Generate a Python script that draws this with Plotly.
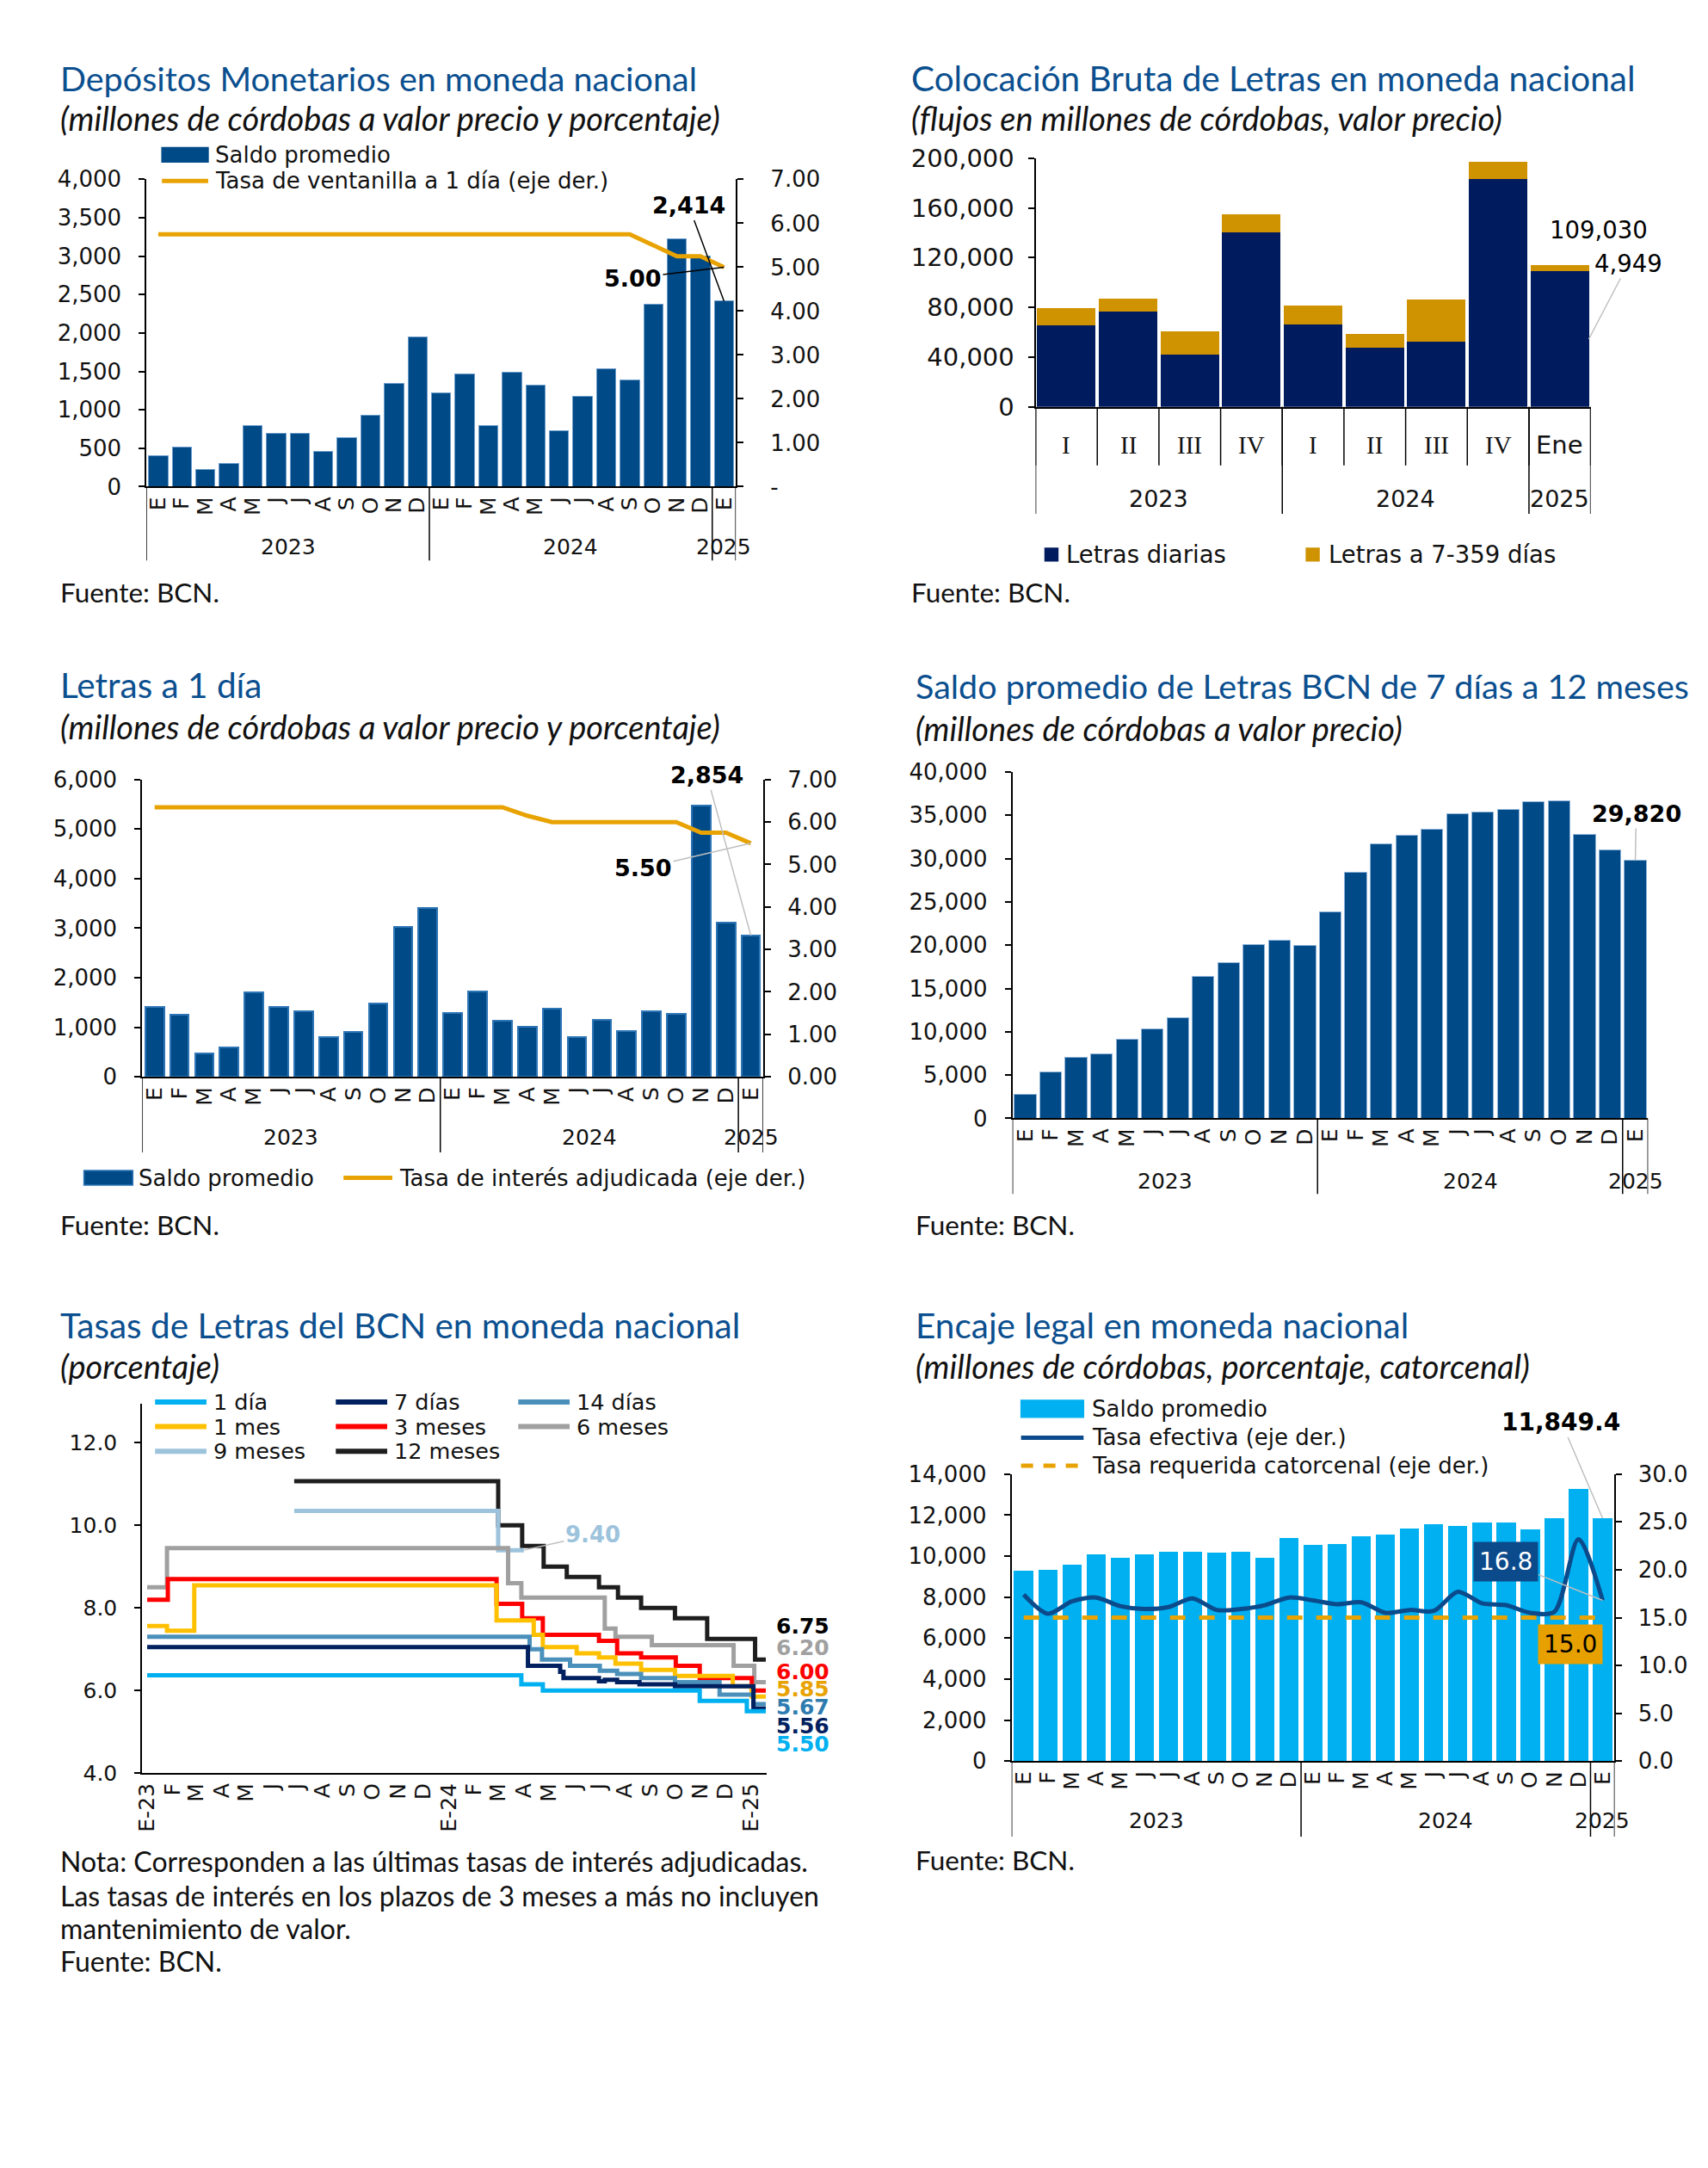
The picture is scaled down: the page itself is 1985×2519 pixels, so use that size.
import plotly.graph_objects as go
import pandas as pd

W, H = 1985, 2519


def fx(x):
    return x / W


def fy(y):
    return 1 - y / H


TITLE_FONT = "Lato, 'Open Sans', 'Noto Sans', sans-serif"
NUM_FONT = "'DejaVu Sans', Verdana, sans-serif"
SERIF_FONT = "'Liberation Serif', 'DejaVu Serif', serif"
TITLE_COLOR = "#0B4F8F"
TEXT_COLOR = "#111111"
BAR_BLUE = "#004A87"
ORANGE = "#E8A202"
LEADER = "#BFBFBF"

# ---------------- data ----------------
meses = ["E", "F", "M", "A", "M", "J", "J", "A", "S", "O", "N", "D",
         "E", "F", "M", "A", "M", "J", "J", "A", "S", "O", "N", "D", "E"]
anios = ["2023", "2024", "2025"]
meses_por_anio = [12, 12, 1]

# 1. Depósitos monetarios
dep_saldo = [405, 516, 223, 304, 795, 699, 699, 456, 643, 927, 1342, 1944,
             1220, 1463, 790, 1489, 1326, 731, 1175, 1540, 1393, 2372, 3221, 3003, 2414]
dep_tasa = [5.75, 5.75, 5.75, 5.75, 5.75, 5.75, 5.75, 5.75, 5.75, 5.75, 5.75, 5.75,
            5.75, 5.75, 5.75, 5.75, 5.75, 5.75, 5.75, 5.75, 5.75, 5.50, 5.25, 5.25, 5.00]
dep_der_ticks = ["-", "1.00", "2.00", "3.00", "4.00", "5.00", "6.00", "7.00"]

# 2. Colocación bruta de letras
trimestres = ["I", "II", "III", "IV", "I", "II", "III", "IV", "Ene"]
trim_anios = ["2023", "2024", "2025"]
trim_por_anio = [4, 4, 1]
letras_diarias = [65300, 76600, 41950, 140600, 66200, 47400, 52400, 183400, 109030]
letras_7_359 = [13800, 10600, 18600, 14500, 15600, 11500, 34200, 13300, 4949]

# 3. Letras a 1 día
l1_saldo = [1418, 1254, 467, 590, 1697, 1418, 1320, 803, 902, 1484, 3025, 3410,
            1295, 1721, 1131, 1011, 1371, 800, 1143, 926, 1331, 1274, 5469, 3120, 2854]
l1_tasa = [6.35, 6.35, 6.35, 6.35, 6.35, 6.35, 6.35, 6.35, 6.35, 6.35, 6.35, 6.35,
           6.35, 6.35, 6.35, 6.15, 6.00, 6.00, 6.00, 6.00, 6.00, 6.00, 5.75, 5.75, 5.50]

# 4. Saldo promedio de letras 7 días a 12 meses
l7_saldo = [2800, 5370, 7050, 7420, 9150, 10360, 11580, 16390, 18020, 20070, 20540, 19930,
            23800, 28420, 31690, 32670, 33370, 35150, 35330, 35710, 36550, 36690, 32810, 30990, 29820]

# 5. Tasas de letras (step series)
t_1d_x = ["2023-01-01", "2024-03-29", "2024-04-24", "2024-10-31", "2024-12-27", "2025-01-19"]
t_1d_y = [6.37, 6.15, 6.00, 5.75, 5.50, 5.50]
t_7d_x = ["2023-01-01", "2024-04-06", "2024-05-15", "2024-05-19", "2024-07-01", "2024-07-08",
          "2024-07-23", "2024-08-19", "2024-10-01", "2025-01-04", "2025-01-19"]
t_7d_y = [7.05, 6.60, 6.45, 6.30, 6.22, 6.26, 6.20, 6.15, 6.10, 5.56, 5.56]
t_14d_x = ["2023-01-01", "2024-04-08", "2024-04-23", "2024-05-27", "2024-07-02", "2024-07-23",
           "2024-08-21", "2024-10-01", "2024-11-24", "2025-01-04", "2025-01-19"]
t_14d_y = [7.30, 7.00, 6.75, 6.60, 6.48, 6.40, 6.30, 6.20, 5.90, 5.67, 5.67]
t_1m_x = ["2023-01-01", "2023-01-25", "2023-02-27", "2024-02-28", "2024-04-13", "2024-04-24",
          "2024-06-04", "2024-07-01", "2024-07-21", "2024-08-21", "2024-10-01", "2024-12-10",
          "2025-01-02", "2025-01-19"]
t_1m_y = [7.56, 7.45, 8.55, 7.70, 7.35, 7.05, 6.90, 6.80, 6.65, 6.50, 6.35, 6.10, 5.85, 5.85]
t_3m_x = ["2023-01-01", "2023-01-26", "2024-02-28", "2024-03-30", "2024-04-24", "2024-07-01",
          "2024-07-23", "2024-08-21", "2024-10-02", "2024-10-31", "2025-01-02", "2025-01-19"]
t_3m_y = [8.20, 8.70, 8.10, 7.75, 7.35, 7.20, 6.90, 6.80, 6.60, 6.30, 6.00, 6.00]
t_6m_x = ["2023-01-01", "2023-01-25", "2024-03-13", "2024-03-29", "2024-07-08", "2024-07-21",
          "2024-09-03", "2024-12-11", "2025-01-05", "2025-01-19"]
t_6m_y = [8.50, 9.45, 8.60, 8.25, 7.50, 7.30, 7.10, 6.60, 6.20, 6.20]
t_9m_x = ["2023-06-28", "2024-03-01", "2024-04-01"]
t_9m_y = [10.35, 9.40, 9.40]
t_12m_x = ["2023-06-28", "2024-03-01", "2024-03-30", "2024-04-25", "2024-05-23", "2024-07-01",
           "2024-07-24", "2024-08-21", "2024-10-01", "2024-11-09", "2025-01-06", "2025-01-19"]
t_12m_y = [11.07, 10.00, 9.50, 9.00, 8.75, 8.50, 8.25, 8.00, 7.75, 7.25, 6.75, 6.75]
tasas_ticktext = ["E-23", "F", "M", "A", "M", "J", "J", "A", "S", "O", "N", "D",
                  "E-24", "F", "M", "A", "M", "J", "J", "A", "S", "O", "N", "D", "E-25"]
nombres_plazo = ["1 día", "7 días", "14 días", "1 mes", "3 meses", "6 meses", "9 meses", "12 meses"]
colores_plazo = ["#00B0F0", "#002060", "#4A90BA", "#FFC000", "#FF0000", "#A0A0A0", "#9DC3DC", "#1E1E1E"]
colores_etiqueta = ["#00B0F0", "#002060", "#2E7BB0", "#E8A202", "#FF0000", "#A0A0A0", "#9DC3DC", "#000000"]

# 6. Encaje legal
enc_saldo = [9290, 9340, 9600, 10070, 9920, 10070, 10200, 10200, 10160, 10200, 9920, 10870,
             10530, 10580, 10980, 11070, 11340, 11545, 11477, 11636, 11636, 11290, 11841, 13295, 11849.4]
enc_efectiva = [17.4, 15.4, 16.7, 17.1, 16.2, 15.9, 16.1, 17.0, 15.8, 15.9, 16.3, 17.1,
                16.8, 16.4, 16.6, 15.5, 15.8, 15.7, 17.7, 16.5, 16.3, 15.5, 15.6, 23.2, 16.8]
enc_requerida = [15.0, 15.0, 15.0, 15.0, 15.0, 15.0, 15.0, 15.0, 15.0, 15.0, 15.0, 15.0,
                 15.0, 15.0, 15.0, 15.0, 15.0, 15.0, 15.0, 15.0, 15.0, 15.0, 15.0, 15.0, 15.0]

idx25 = list(range(len(meses)))
idx9 = list(range(len(trimestres)))

fig = go.Figure()
shapes = []
annotations = []

NUM = 26      # tick / legend size
BOLD = 27     # highlighted values
TIT = 40.5
SUB = 38
SRC = 31.5


def add_text(x, y, text, size, color=TEXT_COLOR, family=NUM_FONT, xanchor="left", yanchor="middle", **kw):
    annotations.append(dict(x=fx(x), y=fy(y), xref="paper", yref="paper", text=text, showarrow=False,
                            xanchor=xanchor, yanchor=yanchor,
                            font=dict(size=size, color=color, family=family), **kw))


def bounds(counts):
    b = [-0.5]
    for c in counts:
        b.append(b[-1] + c)
    return b


def group_axis(xref, counts, labels, axis_px, sep_px, label_px, size=25):
    b = bounds(counts)
    for v in b:
        shapes.append(dict(type="line", xref=xref, yref="paper", x0=v, x1=v,
                           y0=fy(axis_px), y1=fy(sep_px), line=dict(color="black", width=1.5)))
    for i, lab in enumerate(labels):
        annotations.append(dict(x=(b[i] + b[i + 1]) / 2, y=fy(label_px), xref=xref, yref="paper",
                                text=lab, showarrow=False, xanchor="center", yanchor="middle",
                                font=dict(size=size, family=NUM_FONT, color=TEXT_COLOR)))


def legend_rect(x0, x1, yc, color, h=17, line=None):
    shapes.append(dict(type="rect", xref="paper", yref="paper", x0=fx(x0), x1=fx(x1),
                       y0=fy(yc + h / 2), y1=fy(yc - h / 2), fillcolor=color,
                       line=dict(color=line or color, width=1.5)))


def legend_line(x0, x1, yc, color, width=5, dash="solid"):
    shapes.append(dict(type="line", xref="paper", yref="paper", x0=fx(x0), x1=fx(x1),
                       y0=fy(yc), y1=fy(yc), line=dict(color=color, width=width, dash=dash)))


def ystyle(size=NUM, standoff=15):
    return dict(showgrid=False, zeroline=False, showline=True, linecolor="black", linewidth=2,
                ticks="outside", ticklen=7, tickwidth=1.5, tickcolor="black",
                tickfont=dict(family=NUM_FONT, size=size, color=TEXT_COLOR), fixedrange=True,
                ticklabelstandoff=standoff)


xstyle = dict(showgrid=False, zeroline=False, showline=True, linecolor="black", linewidth=2,
              ticks="", tickangle=-90, tickfont=dict(family=NUM_FONT, size=25, color=TEXT_COLOR),
              fixedrange=True)

# ---------------- Chart 1 ----------------
fig.add_trace(go.Bar(x=idx25, y=dep_saldo, xaxis="x", yaxis="y", width=0.82,
                     marker=dict(color=BAR_BLUE, line=dict(color="#6C9CCB", width=1)), showlegend=False))
fig.add_trace(go.Scatter(x=idx25, y=dep_tasa, xaxis="x", yaxis="y2", mode="lines",
                         line=dict(color=ORANGE, width=5), showlegend=False))
C1 = dict(l=162, r=850, t=194, b=556)
add_text(59, 75, "Depósitos Monetarios en moneda nacional", 39.5, TITLE_COLOR, TITLE_FONT)
add_text(59, 122, "<i>(millones de córdobas a valor precio y porcentaje)</i>", SUB, TEXT_COLOR, TITLE_FONT)
legend_rect(180, 234, 165, BAR_BLUE)
add_text(240, 165, "Saldo promedio", NUM)
legend_line(180, 234, 196, ORANGE)
add_text(240, 196, "Tasa de ventanilla a 1 día (eje der.)", NUM)
group_axis("x", meses_por_anio, anios, C1["b"], 643, 627)
add_text(59, 680, "Fuente: BCN.", SRC, TEXT_COLOR, TITLE_FONT)
annotations.append(dict(x=idx25[-1], y=dep_saldo[-1], xref="x", yref="y", text="<b>%s</b>" % f"{dep_saldo[-1]:,}",
                        showarrow=True, arrowhead=0, arrowwidth=1.5, arrowcolor="black", ax=-41, ay=-111,
                        font=dict(size=BOLD, family=NUM_FONT, color="black")))
annotations.append(dict(x=idx25[-1], y=dep_tasa[-1], xref="x", yref="y2", text="<b>%.2f</b>" % dep_tasa[-1],
                        showarrow=True, arrowhead=0, arrowwidth=1.5, arrowcolor="black", ax=-106, ay=13,
                        font=dict(size=BOLD, family=NUM_FONT, color="black")))

# ---------------- Chart 2 ----------------
fig.add_trace(go.Bar(x=idx9, y=letras_diarias, xaxis="x2", yaxis="y3", width=0.95, name="Letras diarias",
                     marker=dict(color="#001B5E", line=dict(width=0)), showlegend=False))
fig.add_trace(go.Bar(x=idx9, y=letras_7_359, xaxis="x2", yaxis="y3", width=0.95, name="Letras a 7-359 días",
                     marker=dict(color="#CF9200", line=dict(width=0)), showlegend=False))
C2 = dict(l=1200, r=1848, t=169, b=462)
add_text(1053, 75, "Colocación Bruta de Letras en moneda nacional", TIT, TITLE_COLOR, TITLE_FONT)
add_text(1053, 122, "<i>(flujos en millones de córdobas, valor precio)</i>", SUB, TEXT_COLOR, TITLE_FONT)
for i in range(len(trimestres) + 1):
    shapes.append(dict(type="line", xref="x2", yref="paper", x0=i - 0.5, x1=i - 0.5,
                       y0=fy(C2["b"]), y1=fy(531), line=dict(color="black", width=1.5)))
for i, q in enumerate(trimestres):
    fam = NUM_FONT if q == "Ene" else SERIF_FONT
    annotations.append(dict(x=i, y=fy(507), xref="x2", yref="paper", text=q, showarrow=False,
                            xanchor="center", yanchor="middle", font=dict(size=29, family=fam, color=TEXT_COLOR)))
group_axis("x2", trim_por_anio, trim_anios, C2["b"], 588, 570, size=27)
legend_rect(1211, 1226, 636, "#001B5E", h=15)
add_text(1234, 636, "Letras diarias", 27.5)
legend_rect(1516, 1531, 636, "#CF9200", h=15)
add_text(1540, 636, "Letras a 7-359 días", 27.5)
add_text(1053, 680, "Fuente: BCN.", SRC, TEXT_COLOR, TITLE_FONT)
add_text(1857, 253, f"{letras_diarias[-1]:,}", 27.5, "black", NUM_FONT, xanchor="center")
annotations.append(dict(x=idx9[-1] + 0.47, y=letras_diarias[-1] / 2, xref="x2", yref="y3",
                        text=f"{letras_7_359[-1]:,}", showarrow=True, arrowhead=0, arrowwidth=1.5,
                        arrowcolor=LEADER, ax=46, ay=-88,
                        font=dict(size=27.5, family=NUM_FONT, color="black")))

# ---------------- Chart 3 ----------------
fig.add_trace(go.Bar(x=idx25, y=l1_saldo, xaxis="x3", yaxis="y4", width=0.75,
                     marker=dict(color=BAR_BLUE, line=dict(color="#2E75B6", width=2)), showlegend=False))
fig.add_trace(go.Scatter(x=idx25, y=l1_tasa, xaxis="x3", yaxis="y5", mode="lines",
                         line=dict(color=ORANGE, width=5), showlegend=False))
C3 = dict(l=157, r=882, t=901, b=1251)
add_text(59, 789, "Letras a 1 día", TIT, TITLE_COLOR, TITLE_FONT)
add_text(59, 838, "<i>(millones de córdobas a valor precio y porcentaje)</i>", SUB, TEXT_COLOR, TITLE_FONT)
group_axis("x3", meses_por_anio, anios, C3["b"], 1340, 1322)
legend_rect(89, 146, 1370, BAR_BLUE, line="#2E75B6")
add_text(151, 1370, "Saldo promedio", NUM)
legend_line(392, 449, 1370, ORANGE)
add_text(455, 1370, "Tasa de interés adjudicada (eje der.)", NUM)
add_text(59, 1425, "Fuente: BCN.", SRC, TEXT_COLOR, TITLE_FONT)
annotations.append(dict(x=idx25[-1], y=l1_saldo[-1], xref="x3", yref="y4", text="<b>%s</b>" % f"{l1_saldo[-1]:,}",
                        showarrow=True, arrowhead=0, arrowwidth=1.5, arrowcolor=LEADER, ax=-51, ay=-186,
                        font=dict(size=BOLD, family=NUM_FONT, color="black")))
annotations.append(dict(x=idx25[-1], y=l1_tasa[-1], xref="x3", yref="y5", text="<b>%.2f</b>" % l1_tasa[-1],
                        showarrow=True, arrowhead=0, arrowwidth=1.5, arrowcolor=LEADER, ax=-125, ay=29,
                        font=dict(size=BOLD, family=NUM_FONT, color="black")))

# ---------------- Chart 4 ----------------
fig.add_trace(go.Bar(x=idx25, y=l7_saldo, xaxis="x4", yaxis="y6", width=0.85,
                     marker=dict(color=BAR_BLUE, line=dict(color="#8FB3D9", width=1)), showlegend=False))
C4 = dict(l=1173, r=1915, t=892, b=1300)
add_text(1058, 790, "Saldo promedio de Letras BCN de 7 días a 12 meses", 39.5, TITLE_COLOR, TITLE_FONT)
add_text(1058, 840, "<i>(millones de córdobas a valor precio)</i>", SUB, TEXT_COLOR, TITLE_FONT)
group_axis("x4", meses_por_anio, anios, C4["b"], 1389, 1374)
add_text(1058, 1425, "Fuente: BCN.", SRC, TEXT_COLOR, TITLE_FONT)
annotations.append(dict(x=idx25[-1], y=l7_saldo[-1], xref="x4", yref="y6", text="<b>%s</b>" % f"{l7_saldo[-1]:,}",
                        showarrow=True, arrowhead=0, arrowwidth=1.5, arrowcolor=LEADER, ax=1, ay=-54,
                        font=dict(size=BOLD, family=NUM_FONT, color="black")))

# ---------------- Chart 5 ----------------
series5 = [(t_1d_x, t_1d_y), (t_7d_x, t_7d_y), (t_14d_x, t_14d_y), (t_1m_x, t_1m_y),
           (t_3m_x, t_3m_y), (t_6m_x, t_6m_y), (t_9m_x, t_9m_y), (t_12m_x, t_12m_y)]
draw_order = [7, 6, 5, 4, 3, 2, 1, 0]
for k in draw_order:
    xs, ys = series5[k]
    fig.add_trace(go.Scatter(x=xs, y=ys, xaxis="x5", yaxis="y7", mode="lines", line_shape="hv",
                             line=dict(color=colores_plazo[k], width=5), name=nombres_plazo[k], showlegend=False))
C5 = dict(l=157, r=886, t=1636, b=2071)
add_text(59, 1543, "Tasas de Letras del BCN en moneda nacional", TIT, TITLE_COLOR, TITLE_FONT)
add_text(59, 1591, "<i>(porcentaje)</i>", SUB, TEXT_COLOR, TITLE_FONT)
leg_cols = [(172, 232, 238), (383, 443, 449), (596, 656, 662)]
leg_rows = [1634, 1663, 1692]
for k, nombre in enumerate(nombres_plazo):
    r, c = divmod(k, 3)
    x0, x1, xt = leg_cols[c]
    legend_line(x0, x1, leg_rows[r], colores_plazo[k], width=6)
    add_text(xt, leg_rows[r], nombre, 25.5)
end_label_pos = [4.70, 5.14, 5.60, 6.03, 6.45, 7.04, 7.56]
end_order = [0, 1, 2, 3, 4, 5, 7]
for pos, k in zip(end_label_pos, end_order):
    xs, ys = series5[k]
    annotations.append(dict(x=xs[-1], y=pos, xref="x5", yref="y7", text="<b>%.2f</b>" % ys[-1],
                            showarrow=False, xanchor="left", yanchor="middle", xshift=11,
                            height=19, borderpad=0, valign="middle",
                            font=dict(size=25, family=NUM_FONT, color=colores_etiqueta[k])))
annotations.append(dict(x=t_9m_x[-1], y=t_9m_y[-1], xref="x5", yref="y7", text="<b>%.2f</b>" % t_9m_y[-1],
                        showarrow=True, arrowhead=0, arrowwidth=1.5, arrowcolor=LEADER, ax=80, ay=-18,
                        font=dict(size=26, family=NUM_FONT, color=colores_etiqueta[6])))
nota = ["Nota: Corresponden a las últimas tasas de interés adjudicadas.",
        "Las tasas de interés en los plazos de 3 meses a más no incluyen",
        "mantenimiento de valor.",
        "Fuente: BCN."]
for line_txt, yy in zip(nota, [2175, 2215, 2254, 2292]):
    add_text(59, yy, line_txt, 32, TEXT_COLOR, TITLE_FONT)

# ---------------- Chart 6 ----------------
fig.add_trace(go.Bar(x=idx25, y=enc_saldo, xaxis="x6", yaxis="y8", width=0.8,
                     marker=dict(color="#00B0F0", line=dict(width=0)), showlegend=False))
fig.add_trace(go.Scatter(x=idx25, y=enc_requerida, xaxis="x6", yaxis="y9", mode="lines",
                         line=dict(color=ORANGE, width=5, dash="18px,16px"), showlegend=False))
fig.add_trace(go.Scatter(x=idx25, y=enc_efectiva, xaxis="x6", yaxis="y9", mode="lines",
                         line=dict(color="#0B4A8B", width=5, shape="spline", smoothing=0.8), showlegend=False))
C6 = dict(l=1172, r=1876, t=1719, b=2057)
add_text(1058, 1543, "Encaje legal en moneda nacional", TIT, TITLE_COLOR, TITLE_FONT)
add_text(1058, 1591, "<i>(millones de córdobas, porcentaje, catorcenal)</i>", SUB, TEXT_COLOR, TITLE_FONT)
legend_rect(1183, 1256, 1642, "#00B0F0", h=20)
add_text(1264, 1642, "Saldo promedio", NUM)
legend_line(1183, 1256, 1676, "#0B4A8B", width=5)
add_text(1264, 1676, "Tasa efectiva (eje der.)", NUM)
legend_line(1183, 1256, 1709, ORANGE, width=5, dash="14px,12px")
add_text(1264, 1709, "Tasa requerida catorcenal (eje der.)", NUM)
group_axis("x6", meses_por_anio, anios, C6["b"], 2146, 2127)
add_text(1058, 2173, "Fuente: BCN.", SRC, TEXT_COLOR, TITLE_FONT)
annotations.append(dict(x=idx25[-1], y=enc_saldo[-1], xref="x6", yref="y8", text="<b>%s</b>" % f"{enc_saldo[-1]:,.1f}",
                        showarrow=True, arrowhead=0, arrowwidth=1.5, arrowcolor=LEADER, ax=-48, ay=-112,
                        font=dict(size=28, family=NUM_FONT, color="black")))
annotations.append(dict(x=idx25[-1], y=enc_efectiva[-1], xref="x6", yref="y9", text="%.1f" % enc_efectiva[-1],
                        showarrow=True, arrowhead=0, arrowwidth=1.5, arrowcolor=LEADER, ax=-112, ay=-45,
                        bgcolor="#0B4A8B", borderpad=6,
                        font=dict(size=28, family=NUM_FONT, color="white")))
annotations.append(dict(x=fx(1824), y=fy(1919), xref="paper", yref="paper", text="%.1f" % enc_requerida[-1],
                        showarrow=False, bgcolor="#E6A000", borderpad=6, xanchor="center", yanchor="middle",
                        font=dict(size=28, family=NUM_FONT, color="black")))


def xdom(c):
    return [fx(c["l"]), fx(c["r"])]


def ydom(c):
    return [fy(c["b"]), fy(c["t"])]


month_ticks = dict(tickvals=idx25, ticktext=meses, range=[-0.5, len(meses) - 0.5])

fig.update_layout(
    width=W, height=H, margin=dict(l=0, r=0, t=0, b=0),
    paper_bgcolor="white", plot_bgcolor="white", barmode="stack", showlegend=False,
    # chart 1
    xaxis=dict(domain=xdom(C1), anchor="y", **month_ticks, **xstyle),
    yaxis=dict(domain=ydom(C1), anchor="x", range=[0, 4000], dtick=500, tickformat=",", **ystyle()),
    yaxis2=dict(overlaying="y", side="right", anchor="x", range=[0, 7],
                tickvals=list(range(len(dep_der_ticks))), ticktext=dep_der_ticks, **ystyle(standoff=26)),
    # chart 2
    xaxis2=dict(domain=xdom(C2), anchor="y3", range=[-0.5, len(trimestres) - 0.5], showticklabels=False,
                showgrid=False, zeroline=False, showline=True, linecolor="black", linewidth=2, ticks="",
                fixedrange=True),
    yaxis3=dict(domain=ydom(C2), anchor="x2", range=[0, 200000], dtick=40000, tickformat=",",
                **ystyle(size=29, standoff=10)),
    # chart 3
    xaxis3=dict(domain=xdom(C3), anchor="y4", **month_ticks, **xstyle),
    yaxis4=dict(domain=ydom(C3), anchor="x3", range=[0, 6000], dtick=1000, tickformat=",", **ystyle()),
    yaxis5=dict(overlaying="y4", side="right", anchor="x3", range=[0, 7], dtick=1, tickformat=".2f",
                **ystyle(standoff=14)),
    # chart 4
    xaxis4=dict(domain=xdom(C4), anchor="y6", **month_ticks, **xstyle),
    yaxis6=dict(domain=ydom(C4), anchor="x4", range=[0, 40000], dtick=5000, tickformat=",", **ystyle()),
    # chart 5
    xaxis5=dict(domain=xdom(C5), anchor="y7", type="date", range=["2022-12-26", "2025-01-20"],
                tickvals=list(pd.date_range("2023-01-01", "2025-01-01", freq="MS").strftime("%Y-%m-%d")),
                ticktext=tasas_ticktext, showgrid=False, zeroline=False, showline=True, linecolor="black",
                linewidth=2, ticks="", tickangle=-90,
                tickfont=dict(family=NUM_FONT, size=25, color=TEXT_COLOR), fixedrange=True),
    yaxis7=dict(domain=ydom(C5), anchor="x5", range=[4, 12.95], tickvals=[4, 6, 8, 10, 12],
                tickformat=".1f", **ystyle(size=25)),
    # chart 6
    xaxis6=dict(domain=xdom(C6), anchor="y8", **month_ticks, **xstyle),
    yaxis8=dict(domain=ydom(C6), anchor="x6", range=[0, 14000], dtick=2000, tickformat=",", **ystyle()),
    yaxis9=dict(overlaying="y8", side="right", anchor="x6", range=[0, 30], dtick=5, tickformat=".1f",
                **ystyle(standoff=13)),
    shapes=shapes,
    annotations=annotations,
)

page_fix = ("document.documentElement.style.margin='0';document.documentElement.style.overflow='hidden';"
            "document.body.style.margin='0';document.body.style.overflow='hidden';"
            "var d=document.getElementById('{plot_id}');d.style.position='absolute';"
            "d.style.left='0px';d.style.top='0px';")
fig.write_html("out.html", post_script=page_fix, config={"displayModeBar": False})
